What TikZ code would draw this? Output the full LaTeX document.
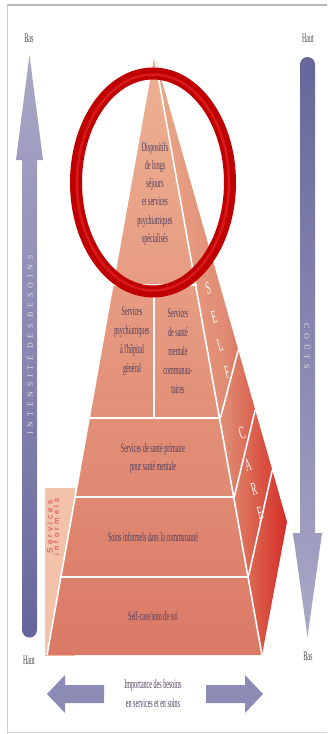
\documentclass[tikz,border=0pt]{standalone}
\usepackage{fontspec}
\setmainfont{Liberation Serif}
\newfontfamily\cond[FakeStretch=0.47]{Liberation Serif}
\newfontfamily\spacedserif[LetterSpace=60]{Liberation Serif}
\newfontfamily\spacedsans[LetterSpace=40]{Liberation Sans}
\definecolor{txtpurple}{HTML}{4F3D5E}
\definecolor{lblgray}{HTML}{4A4A4A}
\definecolor{frontTop}{HTML}{EDB194}
\definecolor{frontBot}{HTML}{DB7A66}
\definecolor{sideA}{HTML}{EAA88A}
\definecolor{sideB}{HTML}{E08A72}
\definecolor{sideC}{HTML}{D9503F}
\definecolor{sideD}{HTML}{D42C28}
\definecolor{ringred}{HTML}{C00000}
\definecolor{ringhi}{HTML}{D81A1A}
\definecolor{arrLight}{HTML}{ABA9C7}
\definecolor{arrDark}{HTML}{66669B}
\definecolor{arrMid}{HTML}{8C8BB5}
\definecolor{informBox}{HTML}{F2C2AA}
\definecolor{informTxt}{HTML}{D24848}
\definecolor{arrTxt}{HTML}{E2E0EC}
\pgfdeclarehorizontalshading{sideshade}{100bp}{color(0bp)=(sideA); color(25bp)=(sideA); color(52bp)=(sideB); color(66.5bp)=(sideC); color(75bp)=(sideD); color(100bp)=(sideD)}
\tikzset{
  lbl/.style={font=\cond\fontsize{13}{18.3}\selectfont, text=txtpurple, align=center, inner sep=0pt},
  lbltwo/.style={font=\cond\fontsize{13}{19}\selectfont, text=txtpurple, align=center, inner sep=0pt},
  endlbl/.style={font=\cond\fontsize{13}{14}\selectfont, text=lblgray, inner sep=0pt},
  wline/.style={draw=white, line width=1.6bp},
  sideletter/.style={font=\cond\fontsize{18}{18}\selectfont, text=white, rotate=15, inner sep=0pt},
  arrtext/.style={font=\spacedserif\fontsize{8}{8}\selectfont, text=arrTxt, inner sep=0pt},
}
\begin{document}
\begin{tikzpicture}[x=1bp,y=-1bp]
\useasboundingbox (0,0) rectangle (327,734);
\fill[white] (0,0) rectangle (327,734);
% frame
\draw[draw=gray!55, line width=1.5bp] (7,5) -- (327,5);
\draw[draw=gray!40, line width=1bp] (7.5,5) -- (7.5,734);
\draw[draw=gray!35, line width=1bp] (7,732) -- (327,732);

% services informels box
\fill[informBox] (45,488) rectangle (75,656);
\node[font=\spacedsans\fontsize{8}{8}\selectfont, text=informTxt, rotate=90, align=center, inner sep=0pt] (inf) at (53,527) {Services\\[-1.5pt]informels};

% pyramid points
\coordinate (A) at (154,53);
\coordinate (O) at (287,522);
\coordinate (B) at (262,655);
\coordinate (C) at (47,655);
\coordinate (L1) at (112,285);   \coordinate (R1) at (197,285);
\coordinate (L2) at (89.4,418);  \coordinate (R2) at (220.4,418);
\coordinate (L3) at (75.2,497);  \coordinate (R3) at (234.2,497);
\coordinate (L4) at (61.3,577);  \coordinate (R4) at (248.3,577);
\coordinate (M1) at (154,285);   \coordinate (M2) at (154,418);
\coordinate (S1) at (238.2,350);
\coordinate (S2) at (255.2,410);
\coordinate (S3) at (272.3,470);

% faces
\shade[top color=frontTop, bottom color=frontBot] (A) -- (B) -- (C) -- cycle;
\shade[shading=sideshade] (A) -- (O) -- (B) -- cycle;

% white lines
\draw[wline] (L1) -- (R1);
\draw[wline] (L2) -- (R2);
\draw[wline] (L3) -- (R3);
\draw[wline] (L4) -- (R4);
\draw[wline] (M1) -- (M2);
\draw[wline] (A) -- (B);
\draw[wline] (A) -- (C);
\draw[wline] (S1) -- (R2);
\draw[wline] (S2) -- (R3);
\draw[wline] (S3) -- (R4);

% texts in pyramid
\node[lbl] (top) at (155,193.5) {Dispositifs\\de longs\\séjours\\et services\\psychiatriques\\spécialisés};
\node[lbltwo] (hop) at (132,341.5) {Services\\psychiatriques\\à l'hôpital\\général};
\node[lbltwo] (comm) at (178,351.5) {Services\\de santé\\mentale\\communau-\\taires};
\node[lbl] (prim) at (153,458) {Services de santé primaire\\pour santé mentale};
\node[lbl] (inform) at (153,537) {Soins informels dans la communauté};
\node[lbl] (self) at (153,616) {Self-care/soin de soi};

% side letters
\node[sideletter] (s1) at (208,288) {S};
\node[sideletter] (s2) at (214,317) {E};
\node[sideletter] (s3) at (220,345) {L};
\node[sideletter] (s4) at (227,372) {F};
\node[sideletter] (c1) at (242,433) {C};
\node[sideletter] (c2) at (248,465) {A};
\node[sideletter] (c3) at (254,489) {R};
\node[sideletter] (c4) at (260,513) {E};

% red ring
\draw[draw=ringred, line width=12bp] (153,182.5) ellipse [x radius=77, y radius=109];
\draw[draw=ringhi, line width=2.5bp] (153,182.5) ellipse [x radius=76, y radius=108];

% left vertical arrow (up)
\shade[top color=arrLight, bottom color=arrDark]
  (29.5,55) -- (43,160) -- (37,160) -- (37,630)
  arc[start angle=0, end angle=180, radius=7.5]
  -- (22,160) -- (16,160) -- cycle;
\node[arrtext, rotate=90] (intens) at (29.5,345) {INTENSITÉ DES BESOINS};

% right vertical arrow (down)
\shade[top color=arrDark, bottom color=arrLight]
  (300,533) -- (300,64.5)
  arc[start angle=180, end angle=360, radius=7.5]
  -- (315,533) -- (322,533) -- (307.5,637) -- (293,533) -- cycle;
\node[arrtext, rotate=-90] (couts) at (307.5,346) {COÛTS};

% end labels
\node[endlbl] (basL) at (29,38) {Bas};
\node[endlbl] (hautR) at (308,38) {Haut};
\node[endlbl] (hautL) at (29,660) {Haut};
\node[endlbl] (basR) at (308,656) {Bas};

% bottom horizontal arrows
\fill[arrMid] (47,694) -- (65,675) -- (65,685) -- (104,685) -- (104,703) -- (65,703) -- (65,713) -- cycle;
\fill[arrMid] (263,694) -- (245,675) -- (245,685) -- (206,685) -- (206,703) -- (245,703) -- (245,713) -- cycle;
\node[lbl, font=\cond\fontsize{13}{19}\selectfont] (imp) at (153,693.5) {Importance des besoins\\en services et en soins};
\end{tikzpicture}
\end{document}
